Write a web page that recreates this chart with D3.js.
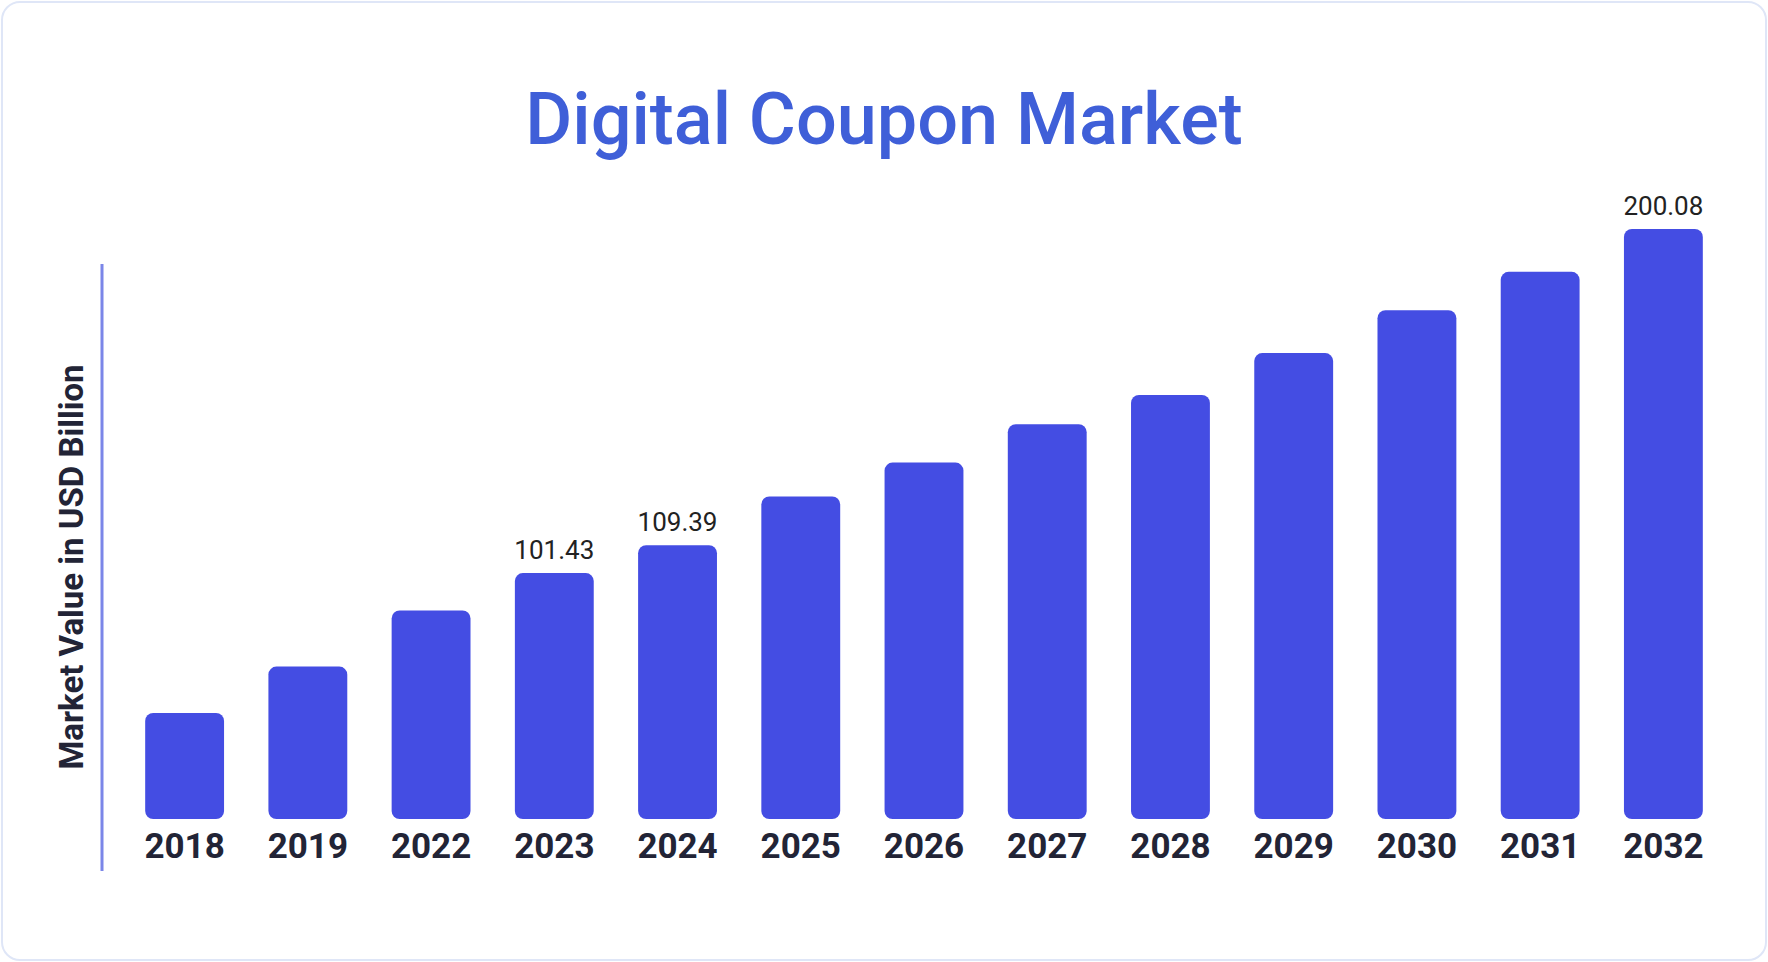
<!DOCTYPE html>
<html>
<head>
<meta charset="utf-8">
<script src="https://cdn.jsdelivr.net/npm/d3@7"></script>
<style>
  html, body { margin: 0; padding: 0; background: #fff; }
  svg { display: block; font-family: Roboto, "Noto Sans", sans-serif; }
</style>
</head>
<body>
<svg id="chart" width="1768" height="962"></svg>
<script>
/* ── DATA ─────────────────────────────────────────────────── */
const YEARS  = ['2018','2019','2022','2023','2024','2025','2026','2027','2028','2029','2030','2031','2032'];
const VALUES = [61.3, 74.6, 90.7, 101.43, 109.39, 123.4, 133.1, 144.1, 152.5, 164.5, 176.8, 187.8, 200.08];
const LABELLED = ['2023', '2024', '2032'];

/* ── LAYOUT ───────────────────────────────────────────────── */
const svg = d3.select('#chart');
const BASE = 819;

svg.append('rect')
  .attr('x', 2).attr('y', 2).attr('width', 1764).attr('height', 958)
  .attr('rx', 18).attr('fill', '#fff')
  .attr('stroke', '#dfe6f7').attr('stroke-width', 2);

svg.append('text')
  .attr('x', 884).attr('y', 144)
  .attr('text-anchor', 'middle')
  .attr('font-size', 72).attr('font-weight', 500)
  .attr('fill', '#3F5FD8')
  .text('Digital Coupon Market');

const x = d3.scaleBand().domain(YEARS).range([123, 1725]).paddingInner(0.36).paddingOuter(0.18);
const y = d3.scaleLinear().domain([30.9, 200.08]).range([BASE, 229]);

// bars
svg.selectAll('.bar')
  .data(YEARS)
  .join('rect')
  .attr('class', 'bar')
  .attr('x', d => x(d))
  .attr('y', (d, i) => y(VALUES[i]))
  .attr('width', x.bandwidth())
  .attr('height', (d, i) => BASE - y(VALUES[i]))
  .attr('rx', 8)
  .attr('fill', '#444DE3');

// value labels
svg.selectAll('.val')
  .data(YEARS.filter(d => LABELLED.includes(d)))
  .join('text')
  .attr('x', d => x(d) + x.bandwidth() / 2)
  .attr('y', d => y(VALUES[YEARS.indexOf(d)]) - 14)
  .attr('text-anchor', 'middle')
  .attr('font-size', 26)
  .attr('fill', '#222')
  .text(d => VALUES[YEARS.indexOf(d)].toFixed(2));

// year axis
const xAxis = svg.append('g')
  .attr('transform', `translate(0,${BASE})`)
  .call(d3.axisBottom(x).tickSize(0).tickPadding(14));
xAxis.select('.domain').remove();
xAxis.selectAll('text')
  .attr('font-size', 35).attr('font-weight', 700)
  .attr('fill', '#222436')
  .attr('font-family', 'Roboto, sans-serif');

// y axis line + title
svg.append('line')
  .attr('x1', 102).attr('x2', 102).attr('y1', 264).attr('y2', 871)
  .attr('stroke', '#7B86E8').attr('stroke-width', 3);

svg.append('text')
  .attr('transform', 'translate(83,567) rotate(-90)')
  .attr('text-anchor', 'middle')
  .attr('font-size', 33).attr('font-weight', 700)
  .attr('fill', '#222436')
  .text('Market Value in USD Billion');
</script>
</body>
</html>
